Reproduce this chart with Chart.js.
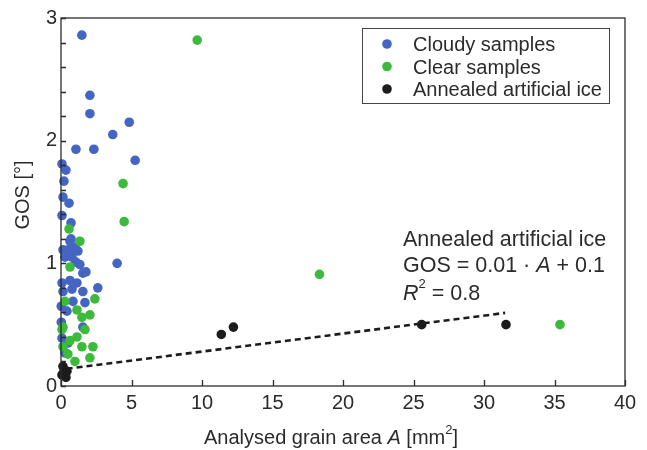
<!DOCTYPE html>
<html>
<head>
<meta charset="utf-8">
<script src="https://cdn.jsdelivr.net/npm/chart.js@4.4.1/dist/chart.umd.min.js"></script>
<style>
  html, body { margin: 0; padding: 0; background: #fff; }
  #wrap { width: 647px; height: 450px; }
</style>
</head>
<body>
<div id="wrap"><canvas id="grainChart" width="647" height="450"></canvas></div>
<script>
// values
const cloudyX = [1.48, 2.05, 2.05, 4.84, 3.67, 1.06, 2.33, 5.26, 0.07, 0.35, 0.21, 0.14, 0.57, 0.07, 0.71,
  0.71, 0.99, 0.64, 0.14, 0.49, 0.92, 1.2, 0.28, 0.78, 1.06, 1.34, 3.98, 1.55, 1.77, 0.64, 0.07, 1.13,
  2.61, 0.14, 1.55, 0.78, 0.85, 1.7, 0.02, 0.42, 0.02, 1.55, 0.07, 0.49, 0.28];
const cloudyY = [2.86, 2.37, 2.22, 2.15, 2.05, 1.93, 1.93, 1.84, 1.81, 1.76, 1.67, 1.54, 1.49, 1.39, 1.33,
  1.2, 1.13, 1.18, 1.11, 1.11, 1.11, 1.1, 1.05, 1.05, 1.01, 0.99, 1.0, 0.92, 0.93, 0.86, 0.84, 0.84,
  0.8, 0.77, 0.77, 0.79, 0.69, 0.68, 0.65, 0.61, 0.52, 0.48, 0.39, 0.35, 0.27];

const clearX = [9.66, 4.4, 4.48, 0.57, 1.34, 0.64, 18.33, 35.39, 0.28, 2.4, 1.13, 2.05, 1.48, 0.14,
  0.07, 1.7, 1.13, 0.64, 2.26, 0.14, 1.48, 0.49, 2.05, 0.99];
const clearY = [2.82, 1.65, 1.34, 1.28, 1.18, 0.97, 0.91, 0.5, 0.69, 0.71, 0.62, 0.58, 0.56, 0.48,
  0.46, 0.46, 0.4, 0.37, 0.32, 0.32, 0.32, 0.26, 0.23, 0.2];

const annealedX = [0.14, 0.21, 0.42, 0.07, 0.35, 11.37, 12.23, 25.58, 31.56];
const annealedY = [0.16, 0.12, 0.12, 0.09, 0.07, 0.42, 0.48, 0.5, 0.5];

// fitted line as drawn
const fitX = [0.4, 31.5];
const fitY = [0.14, 0.596];

const xTickValues = [0, 5, 10, 15, 20, 25, 30, 35, 40];
const yLabelValues = [0, 1, 2, 3];

const seriesNames = ['Cloudy samples', 'Clear samples', 'Annealed artificial ice'];
const seriesColors = ['#4565c3', '#3cba3c', '#1c1c1c'];

const FONT = '"Liberation Sans", Arial, sans-serif';
const INK = '#2b2b2b';

function toPoints(xs, ys) {
  return xs.map((x, i) => ({ x: x, y: ys[i] }));
}

// frame, inward ticks, axis titles, legend box and fit annotation
const decorPlugin = {
  id: 'decor',
  afterDraw(chart) {
    const ctx = chart.ctx;
    const a = chart.chartArea;
    const xs = chart.scales.x, ys = chart.scales.y;
    ctx.save();
    ctx.strokeStyle = INK;
    ctx.lineWidth = 1.3;
    ctx.strokeRect(a.left, a.top, a.right - a.left, a.bottom - a.top);

    // ticks pointing into the plot
    ctx.beginPath();
    xTickValues.forEach(v => {
      const px = Math.round(xs.getPixelForValue(v)) + 0.5;
      ctx.moveTo(px, a.bottom);
      ctx.lineTo(px, a.bottom - 6);
    });
    for (let k = 0; k <= 15; k++) {
      const py = Math.round(ys.getPixelForValue(k * 0.2)) + 0.5;
      ctx.moveTo(a.left, py);
      ctx.lineTo(a.left + 5, py);
    }
    ctx.stroke();

    ctx.fillStyle = INK;
    ctx.textBaseline = 'alphabetic';

    // x title with italic A and superscript 2
    const parts = [
      { t: 'Analysed grain area ', f: '20px ' + FONT, dy: 0 },
      { t: 'A', f: 'italic 20px ' + FONT, dy: 0 },
      { t: ' [mm', f: '20px ' + FONT, dy: 0 },
      { t: '2', f: '13px ' + FONT, dy: -10 },
      { t: ']', f: '20px ' + FONT, dy: 0 }
    ];
    let total = 0;
    parts.forEach(p => { ctx.font = p.f; total += ctx.measureText(p.t).width; });
    let cx = (a.left + a.right) / 2 - 12 - total / 2;
    const by = 444;
    ctx.textAlign = 'left';
    parts.forEach(p => {
      ctx.font = p.f;
      ctx.fillText(p.t, cx, by + p.dy);
      cx += ctx.measureText(p.t).width;
    });

    // y title
    ctx.save();
    ctx.translate(29, (a.top + a.bottom) / 2 - 7);
    ctx.rotate(-Math.PI / 2);
    ctx.textAlign = 'center';
    ctx.font = '20px ' + FONT;
    ctx.fillText('GOS [°]', 0, 0);
    ctx.restore();

    // legend box
    const lx = 362, ly = 28, lw = 247, lh = 75;
    ctx.lineWidth = 1;
    ctx.strokeStyle = '#444';
    ctx.strokeRect(lx + 0.5, ly + 0.5, lw, lh);
    ctx.font = '20px ' + FONT;
    seriesNames.forEach((name, i) => {
      const yy = 44 + i * 22.5;
      ctx.fillStyle = seriesColors[i];
      ctx.beginPath();
      ctx.arc(387, yy, 4.8, 0, Math.PI * 2);
      ctx.fill();
      ctx.fillStyle = INK;
      ctx.fillText(name, 413, yy + 7);
    });

    // fit annotation
    const tx = 403;
    const fs = '21.5px ' + FONT;
    ctx.font = fs;
    ctx.fillText('Annealed artificial ice', tx, 246);
    let ex = tx;
    const eq = [
      { t: 'GOS = 0.01 · ', f: fs },
      { t: 'A', f: 'italic ' + fs },
      { t: ' + 0.1', f: fs }
    ];
    eq.forEach(p => {
      ctx.font = p.f;
      ctx.fillText(p.t, ex, 272);
      ex += ctx.measureText(p.t).width;
    });
    ex = tx;
    ctx.font = 'italic ' + fs;
    ctx.fillText('R', ex, 300);
    ex += ctx.measureText('R').width;
    ctx.font = '13px ' + FONT;
    ctx.fillText('2', ex, 288);
    ex += ctx.measureText('2').width;
    ctx.font = fs;
    ctx.fillText(' = 0.8', ex, 300);

    ctx.restore();
  }
};

const ctx = document.getElementById('grainChart').getContext('2d');
new Chart(ctx, {
  type: 'scatter',
  data: {
    datasets: [
      {
        label: seriesNames[0],
        data: toPoints(cloudyX, cloudyY),
        backgroundColor: seriesColors[0],
        borderWidth: 0,
        pointRadius: 4.8,
        clip: false,
        order: 3
      },
      {
        label: seriesNames[1],
        data: toPoints(clearX, clearY),
        backgroundColor: seriesColors[1],
        borderWidth: 0,
        pointRadius: 4.8,
        clip: false,
        order: 2
      },
      {
        label: 'fit',
        type: 'line',
        data: toPoints(fitX, fitY),
        borderColor: '#1c1c1c',
        borderWidth: 2.6,
        borderDash: [6, 4],
        pointRadius: 0,
        fill: false,
        order: 1
      },
      {
        label: seriesNames[2],
        data: toPoints(annealedX, annealedY),
        backgroundColor: seriesColors[2],
        borderWidth: 0,
        pointRadius: 4.8,
        clip: false,
        order: 0
      }
    ]
  },
  options: {
    responsive: false,
    animation: false,
    events: [],
    layout: { padding: { top: 18, right: 22, left: 0, bottom: 0 } },
    plugins: { legend: { display: false }, tooltip: { enabled: false } },
    scales: {
      x: {
        type: 'linear',
        min: 0,
        max: 40,
        grid: { display: false, drawTicks: false },
        border: { display: false },
        afterBuildTicks: s => { s.ticks = xTickValues.map(v => ({ value: v })); },
        ticks: { font: { family: FONT, size: 20 }, color: INK, padding: 5, maxRotation: 0 },
        afterFit: s => { s.height = 64; }
      },
      y: {
        type: 'linear',
        min: 0,
        max: 3,
        grid: { display: false, drawTicks: false },
        border: { display: false },
        afterBuildTicks: s => { s.ticks = yLabelValues.map(v => ({ value: v })); },
        ticks: { font: { family: FONT, size: 20 }, color: INK, padding: 4 },
        afterFit: s => { s.width = 61; }
      }
    }
  },
  plugins: [decorPlugin]
});
</script>
</body>
</html>
